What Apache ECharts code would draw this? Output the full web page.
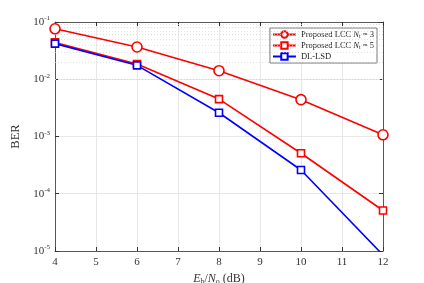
<!DOCTYPE html>
<html><head><meta charset="utf-8">
<script src="https://cdn.jsdelivr.net/npm/echarts@6/dist/echarts.min.js"></script>
<style>html,body{margin:0;padding:0;background:#fff}#c{width:424px;height:283px}</style>
</head><body><div id="c"></div>
<script>
const snr = [4, 6, 8, 10, 12];
const lccN3 = [0.076, 0.0366, 0.0141, 0.0044, 0.00107];
const lccN5 = [0.044, 0.0185, 0.0045, 0.00051, 0.000051];
const dlLsd = [0.0419, 0.0175, 0.0026, 0.00026, 0.0000085];
const xTicks = [4, 5, 6, 7, 8, 9, 10, 11, 12];
const yDecades = [-5, -4, -3, -2, -1];

const minorVals = [];
for (let d = -5; d < -1; d++) for (let m = 2; m <= 9; m++) minorVals.push(m * Math.pow(10, d));

const font = 'Liberation Serif';
const chart = echarts.init(document.getElementById('c'));
const mk = (name, data, color, sym, size, extra) => Object.assign({
  name, type: 'line', data: snr.map((x, i) => [x, data[i]]),
  symbol: sym, symbolSize: size, clip: true,
  lineStyle: { color, width: 1.6 },
  itemStyle: { color: '#fff', borderColor: color, borderWidth: 1.6 },
  emphasis: { disabled: true }, z: 5
}, extra || {});

chart.setOption({
  animation: false,
  textStyle: { fontFamily: font },
  grid: { left: 55, right: 41, top: 22, bottom: 32, outerBoundsMode: 'none', containLabel: false },
  legend: {
    right: 47, top: 28, orient: 'vertical', itemGap: 1.5,
    itemWidth: 23, itemHeight: 8, itemGap: 1.5, padding: [2, 3, 2, 2],
    backgroundColor: '#fff', borderColor: '#555', borderWidth: 0.8,
    textStyle: { fontFamily: font, fontSize: 8.5, color: '#222',
      rich: { i: { fontStyle: 'italic', fontSize: 8.5, fontFamily: font },
              s: { fontSize: 6, fontFamily: font, padding: [4, 0, 0, 0] } } },
    formatter: n => n === 'DL-LSD' ? 'DL-LSD' : 'Proposed LCC {i|N}{s|t} = ' + (n.endsWith('3') ? '3' : '5'),
    data: ['LCC3', 'LCC5', 'DL-LSD']
  },
  xAxis: [{
    type: 'value', min: 4, max: 12, interval: 1,
    axisLine: { show: true, onZero: false, lineStyle: { color: '#333', width: 0.8 } },
    axisTick: { inside: true, length: 4, lineStyle: { color: '#333' } },
    axisLabel: { fontFamily: font, fontSize: 11, color: '#333', margin: 6 },
    splitLine: { show: true, lineStyle: { color: '#e2e2e2', width: 0.8 } },
    name: '{i|E}{s|b}/{i|N}{s|o} (dB)', nameLocation: 'middle', nameGap: 18,
    nameTextStyle: { fontFamily: font, fontSize: 12, color: '#333',
      rich: { i: { fontStyle: 'italic', fontSize: 12, fontFamily: font, color: '#333' },
              s: { fontSize: 8, fontFamily: font, color: '#333', padding: [6, 0, 0, 0] } } }
  }, {
    type: 'value', min: 4, max: 12, interval: 1, position: 'top',
    axisLine: { show: true, lineStyle: { color: '#333', width: 0.8 } },
    axisTick: { inside: true, length: 4, lineStyle: { color: '#333' } },
    axisLabel: { show: false }, splitLine: { show: false }
  }],
  yAxis: [{
    type: 'log', logBase: 10, min: 1e-5, max: 1e-1,
    axisLine: { show: true, onZero: false, lineStyle: { color: '#333', width: 0.8 } },
    axisTick: { inside: true, length: 4, lineStyle: { color: '#333' } },
    axisLabel: { fontFamily: font, fontSize: 11, color: '#333', margin: 5,
      formatter: v => '{b|10}{s|' + Math.round(Math.log10(v)) + '}',
      rich: { b: { fontSize: 11, fontFamily: font, color: '#333' },
              s: { fontSize: 7, fontFamily: font, color: '#333', padding: [0, 0, 7, 0] } } },
    splitLine: { show: true, lineStyle: { color: '#e2e2e2', width: 0.8 } },
    name: 'BER', nameLocation: 'middle', nameGap: 30, nameRotate: 90,
    nameTextStyle: { fontFamily: font, fontSize: 12.5, color: '#333' }
  }, {
    type: 'log', logBase: 10, min: 1e-5, max: 1e-1, position: 'right',
    axisLine: { show: true, lineStyle: { color: '#333', width: 0.8 } },
    axisTick: { inside: true, length: 4, lineStyle: { color: '#333' } },
    axisLabel: { show: false }, splitLine: { show: false }
  }],
  series: [
    {
      type: 'line', data: [], silent: true, z: 1,
      markLine: {
        silent: true, symbol: 'none', label: { show: false }, animation: false,
        lineStyle: { color: '#d6d6d6', type: [1, 2], width: 0.7 },
        data: minorVals.map(v => ({ yAxis: v }))
      }
    },
    mk('LCC3', lccN3, '#ff0000', 'circle', 10),
    mk('LCC5', lccN5, '#ff0000', 'rect', 7),
    mk('DL-LSD', dlLsd, '#0000ff', 'rect', 7)
  ]
});
</script></body></html>
